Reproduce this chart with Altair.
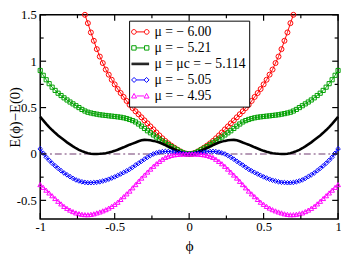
import altair as alt
import pandas as pd

# ---------------- data ----------------
labels = ["μ = − 6.00", "μ = − 5.21", "μ = μc = − 5.114", "μ = − 5.05", "μ = − 4.95"]
colors = ["#ff0000", "#00a000", "#000000", "#0000ff", "#ff00ff"]

x_major = [-1, -0.5, 0, 0.5, 1]
x_minor = [-0.75, -0.25, 0.25, 0.75]
y_major = [-0.5, 0, 0.5, 1, 1.5]
y_minor = [-0.25, 0.25, 0.75, 1.25]
zero_x = [-1, 1]
zero_y = [0, 0]

# E(phi)-E(0), phi from -0.70 to 0.70 step 0.02
red = [1.5, 1.41, 1.31, 1.22, 1.13, 1.05, 0.98, 0.91, 0.855, 0.8, 0.75, 0.7, 0.657, 0.615, 0.572,
       0.53, 0.495, 0.46, 0.428, 0.395, 0.362, 0.33, 0.297, 0.265, 0.232, 0.2, 0.169, 0.14, 0.114,
       0.09, 0.068, 0.048, 0.028, 0.013, 0.003, 0.0, 0.003, 0.013, 0.028, 0.048, 0.068, 0.09, 0.114,
       0.14, 0.169, 0.2, 0.232, 0.265, 0.297, 0.33, 0.362, 0.395, 0.428, 0.46, 0.495, 0.53, 0.572,
       0.615, 0.657, 0.7, 0.75, 0.8, 0.855, 0.91, 0.98, 1.05, 1.13, 1.22, 1.31, 1.41, 1.5]

# phi from -1 to 1 step 0.02
green = [0.9, 0.848, 0.8, 0.758, 0.72, 0.685, 0.655, 0.63, 0.605, 0.582, 0.56, 0.54, 0.52, 0.5, 0.48,
         0.463, 0.45, 0.442, 0.435, 0.429, 0.423, 0.419, 0.415, 0.411, 0.408, 0.404, 0.4, 0.396, 0.39,
         0.382, 0.372, 0.36, 0.345, 0.323, 0.3, 0.275, 0.25, 0.228, 0.205, 0.182, 0.16, 0.14, 0.12, 0.1,
         0.08, 0.062, 0.045, 0.027, 0.012, 0.003, 0.0,
         0.003, 0.012, 0.027, 0.045, 0.062, 0.08, 0.1, 0.12, 0.14, 0.16, 0.182, 0.205, 0.228, 0.25,
         0.275, 0.3, 0.323, 0.345, 0.36, 0.372, 0.382, 0.39, 0.396, 0.4, 0.404, 0.408, 0.411, 0.415,
         0.419, 0.423, 0.429, 0.435, 0.442, 0.45, 0.463, 0.48, 0.5, 0.52, 0.54, 0.56, 0.582, 0.605,
         0.63, 0.655, 0.685, 0.72, 0.758, 0.8, 0.848, 0.9]

black = [0.4, 0.362, 0.325, 0.29, 0.258, 0.228, 0.2, 0.175, 0.15, 0.125, 0.103, 0.082, 0.062, 0.045,
         0.03, 0.018, 0.009, 0.003, 0.0, 0.0, 0.002, 0.005, 0.009, 0.015, 0.024, 0.034, 0.046, 0.059,
         0.072, 0.086, 0.1, 0.112, 0.124, 0.137, 0.147, 0.152, 0.151, 0.147, 0.141, 0.133, 0.123, 0.11,
         0.095, 0.08, 0.065, 0.05, 0.035, 0.021, 0.01, 0.002, 0.0,
         0.002, 0.01, 0.021, 0.035, 0.05, 0.065, 0.08, 0.095, 0.11, 0.123, 0.133, 0.141, 0.147, 0.151,
         0.152, 0.147, 0.137, 0.124, 0.112, 0.1, 0.086, 0.072, 0.059, 0.046, 0.034, 0.024, 0.015, 0.009,
         0.005, 0.002, 0.0, 0.0, 0.003, 0.009, 0.018, 0.03, 0.045, 0.062, 0.082, 0.103, 0.125, 0.15,
         0.175, 0.2, 0.228, 0.258, 0.29, 0.325, 0.362, 0.4]

blue = [0.055, 0.008, -0.035, -0.068, -0.1, -0.128, -0.155, -0.181, -0.205, -0.225, -0.245, -0.263,
        -0.28, -0.291, -0.3, -0.307, -0.31, -0.31, -0.308, -0.305, -0.3, -0.292, -0.283, -0.272, -0.26,
        -0.247, -0.232, -0.216, -0.2, -0.183, -0.165, -0.143, -0.12, -0.1, -0.078, -0.056, -0.035,
        -0.016, 0.0, 0.011, 0.02, 0.025, 0.027, 0.026, 0.024, 0.019, 0.014, 0.009, 0.004, 0.001, 0.0,
        0.001, 0.004, 0.009, 0.014, 0.019, 0.024, 0.026, 0.027, 0.025, 0.02, 0.011, 0.0, -0.016, -0.035,
        -0.056, -0.078, -0.1, -0.12, -0.143, -0.165, -0.183, -0.2, -0.216, -0.232, -0.247, -0.26,
        -0.272, -0.283, -0.292, -0.3, -0.305, -0.308, -0.31, -0.31, -0.307, -0.3, -0.291, -0.28,
        -0.263, -0.245, -0.225, -0.205, -0.181, -0.155, -0.128, -0.1, -0.068, -0.035, 0.008, 0.055]

magenta = [-0.33, -0.36, -0.39, -0.42, -0.45, -0.48, -0.51, -0.538, -0.565, -0.586, -0.605, -0.621,
           -0.635, -0.643, -0.65, -0.654, -0.655, -0.651, -0.645, -0.635, -0.625, -0.613, -0.6, -0.583,
           -0.565, -0.543, -0.52, -0.49, -0.46, -0.43, -0.4, -0.365, -0.33, -0.295, -0.26, -0.227,
           -0.195, -0.163, -0.133, -0.105, -0.08, -0.057, -0.037, -0.025, -0.015, -0.009, -0.005,
           -0.002, -0.001, 0.0, 0.0,
           0.0, -0.001, -0.002, -0.005, -0.009, -0.015, -0.025, -0.037, -0.057, -0.08, -0.105, -0.133,
           -0.163, -0.195, -0.227, -0.26, -0.295, -0.33, -0.365, -0.4, -0.43, -0.46, -0.49, -0.52,
           -0.543, -0.565, -0.583, -0.6, -0.613, -0.625, -0.635, -0.645, -0.651, -0.655, -0.654, -0.65,
           -0.643, -0.635, -0.621, -0.605, -0.586, -0.565, -0.538, -0.51, -0.48, -0.45, -0.42, -0.39,
           -0.36, -0.33]

series_values = [red, green, black, blue, magenta]
series_start = [-0.70, -1.0, -1.0, -1.0, -1.0]
marker_shapes = ["circle", "square", None, "diamond", "triangle-up"]
marker_sizes = [26, 18, 0, 22, 24]
line_widths = [1, 1, 2.6, 1, 1]

# legend symbols: two markers joined by a line
legend_paths = [
    "M-0.52,0L0.52,0M-1.12,0A0.3,0.3,0,1,1,-0.52,0A0.3,0.3,0,1,1,-1.12,0M0.52,0A0.3,0.3,0,1,1,1.12,0A0.3,0.3,0,1,1,0.52,0",
    "M-0.54,0L0.54,0M-1.1,-0.28L-0.54,-0.28L-0.54,0.28L-1.1,0.28ZM0.54,-0.28L1.1,-0.28L1.1,0.28L0.54,0.28Z",
    "M-1.12,-0.1L1.12,-0.1M-1.12,0L1.12,0M-1.12,0.1L1.12,0.1",
    "M-0.48,0L0.48,0M-1.12,0L-0.8,-0.32L-0.48,0L-0.8,0.32ZM0.48,0L0.8,-0.32L1.12,0L0.8,0.32Z",
    "M-0.48,0L0.48,0M-1.12,0.26L-0.8,-0.32L-0.48,0.26ZM0.48,0.26L0.8,-0.32L1.12,0.26Z",
]

# ---------------- chart ----------------
W, H = 305, 209
FONT = "Liberation Serif"
xs = alt.Scale(domain=[-1, 1], nice=False, zero=False)
ys = alt.Scale(domain=[-0.7, 1.5], nice=False, zero=False)

x_axis = alt.Axis(values=x_major, labelExpr="toString(datum.value)", ticks=False, domain=False,
                  grid=False, labelFont=FONT, labelFontSize=13, labelPadding=2, labelFlush=False,
                  labelOverlap=False, labelColor="black", title="ϕ", titleFont=FONT,
                  titleFontSize=16, titleFontWeight="normal", titleY=27, titleBaseline="middle",
                  titleColor="black")
y_axis = alt.Axis(values=y_major, labelExpr="toString(datum.value)", ticks=False, domain=False,
                  grid=False, labelFont=FONT, labelFontSize=13, labelPadding=4, labelFlush=False,
                  labelOverlap=False, labelColor="black", title="E(ϕ)−E(0)", titleFont=FONT,
                  titleFontSize=15, titleFontWeight="normal", titleX=-26, titleY=H / 2,
                  titleBaseline="middle", titleAlign="center", titleColor="black")

X = alt.X("phi:Q", scale=xs, axis=x_axis)
Y = alt.Y("E:Q", scale=ys, axis=y_axis)

layers = []

zero_df = pd.DataFrame({"phi": zero_x, "E": zero_y})
layers.append(alt.Chart(zero_df).mark_line(color="#a07ca0", strokeWidth=1.5, strokeDash=[7, 3, 2, 3])
              .encode(x=X, y=Y))

for vals, start, col, shp, sz, lw in zip(series_values, series_start, colors, marker_shapes,
                                          marker_sizes, line_widths):
    phis = [round(start + 0.02 * i, 2) for i in range(len(vals))]
    d = pd.DataFrame({"phi": phis, "E": vals})
    layers.append(alt.Chart(d).mark_line(color=col, strokeWidth=lw).encode(x=X, y=Y))
    if shp is not None:
        layers.append(alt.Chart(d).mark_point(shape=shp, size=sz, color=col, filled=False,
                                              strokeWidth=1, opacity=1).encode(x=X, y=Y))

# ticks pointing inward on all four sides
for vals, ln in [(x_major, 6), (x_minor, 3.5)]:
    td = pd.DataFrame({"phi": vals})
    for y1, y2 in [(H, H - ln), (0, ln)]:
        layers.append(alt.Chart(td).mark_rule(color="black", strokeWidth=1.2).encode(
            x=X, y=alt.value(y1), y2=alt.value(y2)))
for vals, ln in [(y_major, 6), (y_minor, 3.5)]:
    td = pd.DataFrame({"E": vals})
    for x1, x2 in [(0, ln), (W, W - ln)]:
        layers.append(alt.Chart(td).mark_rule(color="black", strokeWidth=1.2).encode(
            y=Y, x=alt.value(x1), x2=alt.value(x2)))

# legend (driven by explicit scale domains; the layer itself draws nothing)
leg = alt.Legend(title=None, orient="none", legendX=91, legendY=6, direction="vertical",
                 strokeColor="black", fillColor="white", padding=3, symbolSize=256,
                 symbolStrokeWidth=1, labelFont=FONT, labelFontSize=14, labelColor="black",
                 labelOffset=6, rowPadding=0.4, labelLimit=300)
leg_df = pd.DataFrame({"phi": [0.0] * len(labels), "E": [0.0] * len(labels), "label": labels})
layers.append(alt.Chart(leg_df).transform_filter("false").mark_point(filled=False, opacity=1).encode(
    x=X, y=Y,
    color=alt.Color("label:N", scale=alt.Scale(domain=labels, range=colors), legend=leg),
    shape=alt.Shape("label:N", scale=alt.Scale(domain=labels, range=legend_paths), legend=leg)))

chart = alt.layer(*layers).properties(
    width=W, height=H,
    padding={"left": 33, "top": 4, "right": 3, "bottom": 35},
    autosize=alt.AutoSizeParams(type="none"),
).configure_view(stroke="black", strokeWidth=1.5)

chart.save("out.html", embed_options={"renderer": "svg", "actions": False})
